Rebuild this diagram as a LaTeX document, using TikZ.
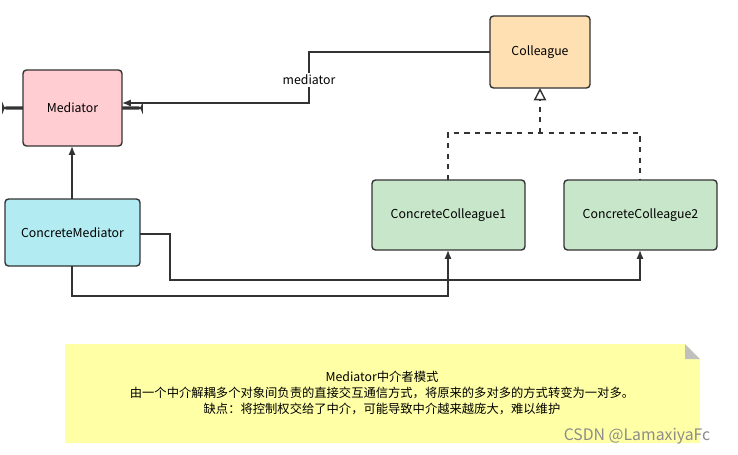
\documentclass[tikz,border=0pt]{standalone}
\usepackage{fontspec}
\setmainfont{Noto Sans CJK SC}
\usetikzlibrary{arrows.meta}
\definecolor{mpink}{HTML}{FFCDD2}
\definecolor{morange}{HTML}{FFE0B2}
\definecolor{mcyan}{HTML}{B2EBF2}
\definecolor{mgreen}{HTML}{C8E6C9}
\definecolor{mnote}{HTML}{FFFFA6}
\begin{document}
\begin{tikzpicture}[x=0.02cm,y=-0.02cm,font=\fontsize{7}{9}\selectfont,
    cls/.style={draw=black!80,thick,rounded corners=2pt,inner sep=0pt},
    link/.style={thick,black!80,-{Latex[length=5pt,width=4pt]}},
    impl/.style={thick,black!80,dashed}]
    \useasboundingbox (0,0) rectangle (738,454);

    % Classes
    \node[cls,fill=mpink,minimum width=99\pgflinewidth] (med) at (72.5,108) {};
    \draw[cls,fill=mpink] (23,70) rectangle (122,146);
    \node at (72.5,108) {Mediator};
    \draw[cls,fill=morange] (490,16) rectangle (590,88);
    \node (col) at (540,52) {Colleague};
    \draw[cls,fill=mcyan] (5,199) rectangle (140,266);
    \node (cmed) at (72.5,233) {ConcreteMediator};
    \draw[cls,fill=mgreen] (372,180) rectangle (525,250);
    \node (cc1) at (448.5,215) {ConcreteColleague1};
    \draw[cls,fill=mgreen] (564,180) rectangle (717,250);
    \node (cc2) at (640.5,215) {ConcreteColleague2};

    % Anchor points
    \coordinate (medR) at (122,103);
    \coordinate (medB) at (72,146);
    \coordinate (colL) at (490,52);
    \coordinate (colB) at (540,88);

    % Connectors
    \draw[link] (colL) -- (309,52) -- (309,103) -- (medR);
    \node[fill=white,inner sep=1pt] at (309,80) {mediator};
    \draw[link] (72,199) -- (medB);
    \draw[impl] (448,180) -- (448,133) -- (640,133) -- (640,180);
    \draw[thick,black!80,dashed,-{Triangle[open,length=7pt,width=7pt]}] (540,133) -- (colB);
    \draw[link] (72,266) -- (72,296) -- (448,296) -- (448,250);
    \draw[link] (140,234) -- (170,234) -- (170,280) -- (640,280) -- (640,250);

    % Note
    \fill[mnote] (65,344) -- (685,344) -- (700,359) -- (700,443) -- (65,443) -- cycle;
    \fill[black!25] (685,344) -- (700,359) -- (685,359) -- cycle;
    \node[align=center] (note) at (382,393) {Mediator中介者模式\\由一个中介解耦多个对象间负责的直接交互通信方式，将原来的多对多的方式转变为一对多。\\缺点：将控制权交给了中介，可能导致中介越来越庞大，难以维护};

    \node[text=black!45,font=\fontsize{9}{10}\selectfont] (mark) at (637,436) {CSDN @LamaxiyaFc};
\end{tikzpicture}
\end{document}
